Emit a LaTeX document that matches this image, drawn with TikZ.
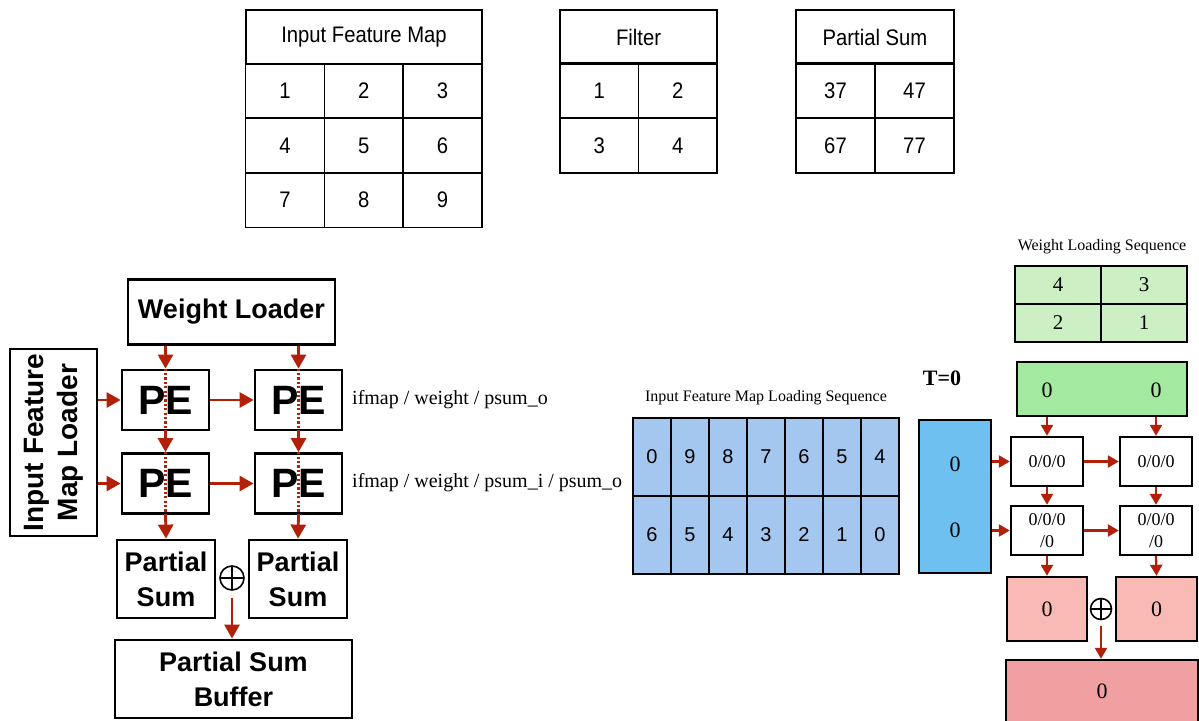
\documentclass[tikz,border=0pt]{standalone}
\usepackage{fontspec}
\setmainfont{Liberation Serif}
\setsansfont{Liberation Sans}
\usetikzlibrary{arrows.meta}
\definecolor{myred}{RGB}{178,32,10}
\definecolor{seqblue}{RGB}{164,199,240}
\definecolor{wseqgreen}{RGB}{204,240,196}
\definecolor{wgreen}{RGB}{163,234,160}
\definecolor{ifblue}{RGB}{110,192,240}
\definecolor{pink}{RGB}{249,185,181}
\definecolor{darkpink}{RGB}{240,160,160}
\newcommand\nar[1]{\scalebox{0.9}[1]{#1}}
\tikzset{
  tcell/.style={draw, line width=1.5pt, inner sep=0pt, font=\sffamily\fontsize{22.5}{24}\selectfont},
  lbox/.style={draw, line width=2.8pt, inner sep=0pt, align=center, font=\sffamily\bfseries\fontsize{27}{35}\selectfont},
  pebox/.style={lbox, minimum width=87, minimum height=60, font=\sffamily\bfseries\fontsize{41}{41}\selectfont},
  arr/.style={draw=myred, line width=2.8pt, -{Triangle[length=14pt,width=15pt]}},
  rarr/.style={draw=myred, line width=2.3pt, -{Triangle[length=11pt,width=12pt]}},
  dotline/.style={draw=myred, line width=2.4pt, dash pattern=on 2.2pt off 2.2pt},
  lbl/.style={anchor=west, inner sep=0pt, font=\fontsize{20}{22}\selectfont},
  scell/.style={draw, line width=1.2pt, fill=seqblue, inner sep=0pt, minimum width=38, minimum height=78, font=\sffamily\fontsize{20}{22}\selectfont},
  wcell/.style={draw, line width=1.2pt, fill=wseqgreen, inner sep=0pt, minimum width=86, minimum height=38, font=\fontsize{21}{22}\selectfont},
  rbox/.style={draw, line width=2.4pt, inner sep=0pt, align=center, font=\fontsize{22}{24}\selectfont},
  rpe/.style={rbox, minimum width=72, minimum height=49, font=\fontsize{18}{22}\selectfont},
  plus/.style={draw, circle, line width=1.6pt, inner sep=0pt, minimum size=#1,
    path picture={\draw[line width=1.6pt] (path picture bounding box.north) -- (path picture bounding box.south)
      (path picture bounding box.west) -- (path picture bounding box.east);}},
  ttl/.style={inner sep=0pt, font=\fontsize{16}{18}\selectfont},
}
\begin{document}
\begin{tikzpicture}[x=1pt,y=-1pt]
\useasboundingbox (0,0) rectangle (1199,720);

% ---------- top tables ----------
\node[tcell, minimum width=236, minimum height=54] (ifmh) at (364,37) {\nar{Input Feature Map}};
\foreach \y/\a/\b/\c [count=\i] in {90.5/1/2/3, 145.5/4/5/6, 200/7/8/9} {
  \node[tcell, minimum width=78.7, minimum height=54.5] (ifm-\i-1) at (285,\y) {\nar{\a}};
  \node[tcell, minimum width=78.7, minimum height=54.5] (ifm-\i-2) at (363.7,\y) {\nar{\b}};
  \node[tcell, minimum width=78.7, minimum height=54.5] (ifm-\i-3) at (442.4,\y) {\nar{\c}};
}
\node[tcell, minimum width=157, minimum height=54] (filh) at (638.5,37) {\nar{Filter}};
\foreach \y/\a/\b [count=\i] in {90.5/1/2, 145.5/3/4} {
  \node[tcell, minimum width=78.5, minimum height=55] (fil-\i-1) at (599.25,\y) {\nar{\a}};
  \node[tcell, minimum width=78.5, minimum height=55] (fil-\i-2) at (677.75,\y) {\nar{\b}};
}
\node[tcell, minimum width=158, minimum height=54] (psh) at (875,37) {\nar{Partial Sum}};
\foreach \y/\a/\b [count=\i] in {90.5/37/47, 145.5/67/77} {
  \node[tcell, minimum width=79, minimum height=55] (ps-\i-1) at (835.5,\y) {\nar{\a}};
  \node[tcell, minimum width=79, minimum height=55] (ps-\i-2) at (914.5,\y) {\nar{\b}};
}

% ---------- left architecture ----------
\node[lbox, minimum width=207, minimum height=65] (wl) at (231.5,312) {Weight Loader};
\node[lbox, minimum width=87, minimum height=187] (ifml) at (53.5,442.5) {};
\node[rotate=90, align=center, inner sep=0pt, font=\sffamily\bfseries\fontsize{28}{34}\selectfont] (ifmlt) at (ifml.center) {Input Feature\\Map Loader};

\node[pebox] (pe11) at (165.5,400) {PE};
\node[pebox] (pe12) at (298.5,400) {PE};
\node[pebox] (pe21) at (165.5,483.5) {PE};
\node[pebox] (pe22) at (298.5,483.5) {PE};
\foreach \p in {pe11,pe12,pe21,pe22} {
  \draw[dotline] (\p.north) -- (\p.south);
}
\node[lbox, minimum width=98, minimum height=78] (psa) at (166,579) {Partial\\Sum};
\node[lbox, minimum width=98, minimum height=78] (psb) at (298,579) {Partial\\Sum};
\node[plus=24pt] (opl) at (232,578) {};
\node[lbox, minimum width=237, minimum height=78] (psbuf) at (233.5,679) {Partial Sum\\Buffer};

\draw[arr] (pe11.north |- wl.south) -- (pe11.north);
\draw[arr] (pe12.north |- wl.south) -- (pe12.north);
\draw[arr] (pe11.south) -- (pe21.north);
\draw[arr] (pe12.south) -- (pe22.north);
\draw[arr] (pe21.south) -- (psa.north);
\draw[arr] (pe22.south) -- (psb.north);
\draw[arr] (ifml.east |- pe11.west) -- (pe11.west);
\draw[arr] (ifml.east |- pe21.west) -- (pe21.west);
\draw[arr] (pe11.east) -- (pe12.west);
\draw[arr] (pe21.east) -- (pe22.west);
\draw[arr, shorten <=7pt] (opl.south) -- (opl.south |- psbuf.north);

\node[lbl] (lab1) at (352,400) {ifmap / weight / psum\_o};
\node[lbl] (lab2) at (352,483) {ifmap / weight / psum\_i / psum\_o};

% ---------- input feature map loading sequence ----------
\node[ttl] (iseqt) at (766,398) {Input Feature Map Loading Sequence};
\foreach \a/\b [count=\i from 0] in {0/6, 9/5, 8/4, 7/3, 6/2, 5/1, 4/0} {
  \node[scell] (sq-1-\i) at (652+38*\i,457) {\a};
  \node[scell] (sq-2-\i) at (652+38*\i,535) {\b};
}

% ---------- right: T=0 state ----------
\node[ttl] (wseqt) at (1102,247) {Weight Loading Sequence};
\node[wcell] (ws-11) at (1058,285) {4};
\node[wcell] (ws-12) at (1144,285) {3};
\node[wcell] (ws-21) at (1058,323) {2};
\node[wcell] (ws-22) at (1144,323) {1};

\node[inner sep=0pt, font=\bfseries\fontsize{22}{24}\selectfont] (tzero) at (942,378) {T=0};

\node[rbox, fill=wgreen, minimum width=170, minimum height=54] (gw) at (1102,389) {};
\node[inner sep=0pt, font=\fontsize{22}{24}\selectfont] (gw1) at (1047,390) {0};
\node[inner sep=0pt, font=\fontsize{22}{24}\selectfont] (gw2) at (1156,390) {0};

\node[rbox, fill=ifblue, minimum width=72, minimum height=153] (bl) at (955,496.5) {};
\node[inner sep=0pt, font=\fontsize{22}{24}\selectfont] (bl1) at (955,464) {0};
\node[inner sep=0pt, font=\fontsize{22}{24}\selectfont] (bl2) at (955,530) {0};

\node[rpe] (r11) at (1047,461.5) {0/0/0};
\node[rpe] (r12) at (1156,461.5) {0/0/0};
\node[rpe] (r21) at (1047,530.5) {0/0/0\\/0};
\node[rpe] (r22) at (1156,530.5) {0/0/0\\/0};

\node[rbox, fill=pink, minimum width=80, minimum height=64] (pk1) at (1047,609) {0};
\node[rbox, fill=pink, minimum width=81, minimum height=64] (pk2) at (1156.5,609) {0};
\node[plus=21pt] (opr) at (1101,609) {};
\node[rbox, fill=darkpink, minimum width=192, minimum height=66] (pkb) at (1102,693) {};
\node[inner sep=0pt, font=\fontsize{22}{24}\selectfont] (pkbt) at (1102,691) {0};

\draw[rarr] (r11.north |- gw.south) -- (r11.north);
\draw[rarr] (r12.north |- gw.south) -- (r12.north);
\draw[rarr] (bl.east |- r11.west) -- (r11.west);
\draw[rarr] (bl.east |- r21.west) -- (r21.west);
\draw[rarr] (r11.east) -- (r12.west);
\draw[rarr] (r21.east) -- (r22.west);
\draw[rarr] (r11.south) -- (r21.north);
\draw[rarr] (r12.south) -- (r22.north);
\draw[rarr] (r21.south) -- (pk1.north);
\draw[rarr] (r22.south) -- (pk2.north);
\draw[rarr, shorten <=6pt] (opr.south) -- (opr.south |- pkb.north);
\end{tikzpicture}
\end{document}
